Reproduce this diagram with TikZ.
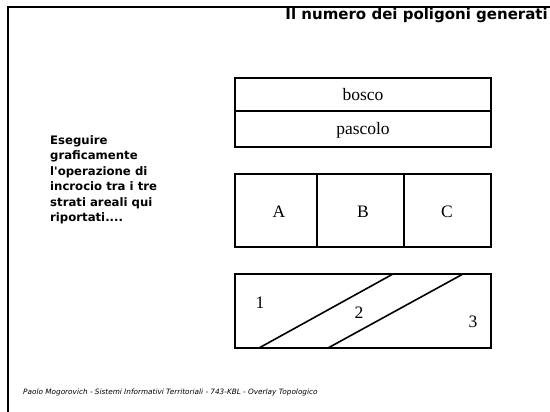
\documentclass[tikz,border=0pt]{standalone}
\usepackage{fontspec}
\setmainfont{Liberation Serif}
\newfontfamily\notefont{DejaVu Sans}

\begin{document}
\begin{tikzpicture}[
        x=1pt,
        y=-1pt,
        layerbox/.style={line width=1.6pt},
        fence/.style={line width=2.6pt},
        lbl/.style={font=\fontsize{17.5}{17.5}\selectfont}
    ]
    \useasboundingbox (0,0) rectangle (550,412);

    % Slide frame
    \draw[fence] (8,412) -- (8,7) -- (550,7);

    % Title
    \node[anchor=east, inner sep=0pt, font=\notefont\bfseries\fontsize{15}{15}\selectfont]
        (title) at (548,15) {Il numero dei poligoni generati};

    % Task text
    \node[anchor=north west, inner sep=0pt, align=left,
          font=\notefont\bfseries\fontsize{11.7}{15.5}\selectfont]
        (task) at (50,135) {Eseguire\\graficamente\\l'operazione di\\incrocio tra i tre\\strati areali qui\\riportati....};

    % Layer 1: land use
    \draw[layerbox] (235,78) rectangle (491,147);
    \draw[line width=2.6pt] (235,111) -- (491,111);
    \node[lbl] (bosco) at (363,95) {bosco};
    \node[lbl] (pascolo) at (363,130) {pascolo};

    % Layer 2: zones
    \draw[layerbox] (235,174) rectangle (491,247);
    \draw[line width=2.4pt] (317,174) -- (317,247);
    \draw[line width=2.4pt] (404,174) -- (404,247);
    \node[lbl] (zoneA) at (279,212) {A};
    \node[lbl] (zoneB) at (363,212) {B};
    \node[lbl] (zoneC) at (447,212) {C};

    % Layer 3: bands
    \draw[layerbox] (235,274) rectangle (491,348);
    \draw[line width=1.6pt] (259,348) -- (393,274);
    \draw[line width=1.6pt] (328,348) -- (463,274);
    \node[lbl] (band1) at (260,303) {1};
    \node[lbl] (band2) at (359,313) {2};
    \node[lbl] (band3) at (473,322) {3};

    % Footer
    \node[anchor=west, inner sep=0pt, font=\notefont\itshape\fontsize{7.3}{7.3}\selectfont]
        (footer) at (23,392) {Paolo Mogorovich - Sistemi Informativi Territoriali - 743-KBL - Overlay Topologico};

    \end{tikzpicture}
\end{document}
